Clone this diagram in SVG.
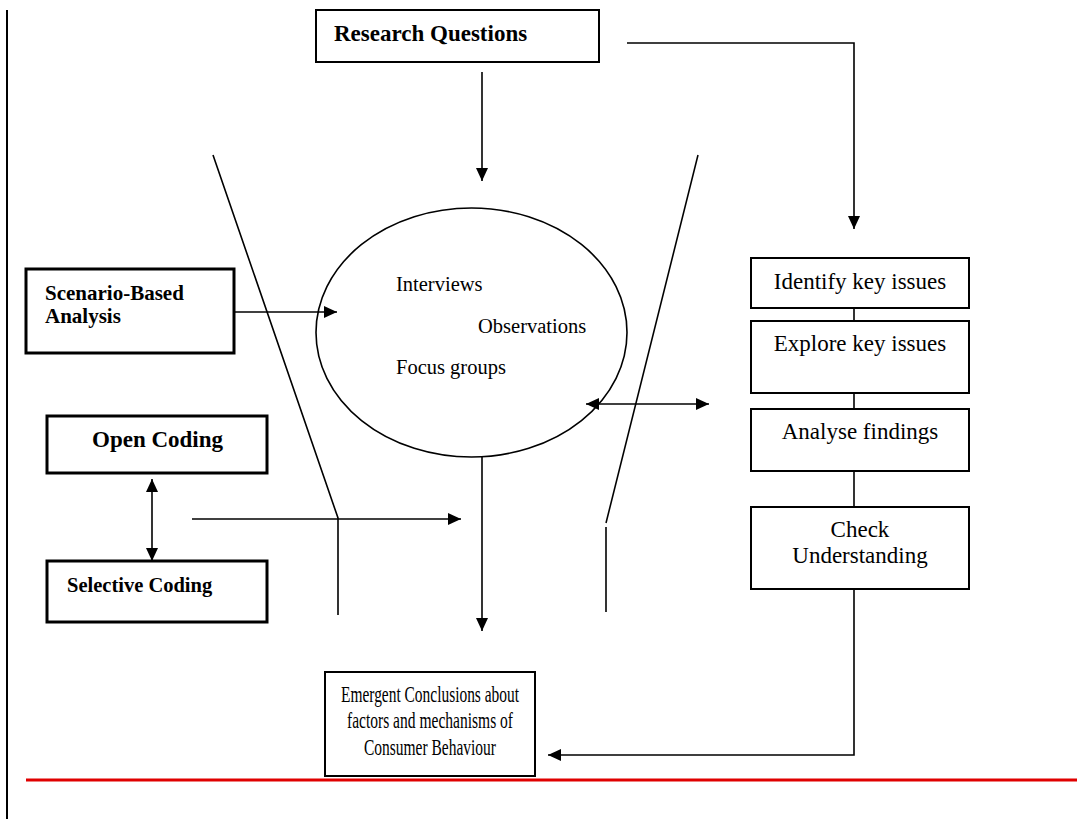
<svg xmlns="http://www.w3.org/2000/svg" width="1077" height="819" viewBox="0 0 1077 819">
  <style>
    .thin { fill: none; stroke: #000; stroke-width: 1.6; }
    .box { fill: #fff; stroke: #000; stroke-width: 2; }
    .bbox { fill: #fff; stroke: #000; stroke-width: 3; }
    .t { font-family: "Liberation Serif", "Times New Roman", serif; fill: #000; }
    .b { font-weight: bold; }
    .rt { font-size: 23px; text-anchor: middle; }
    .et { font-size: 23px; text-anchor: middle; }
    .mt { font-size: 20.5px; }
  </style>
  <defs>
    <marker id="arrow" viewBox="0 0 13 12" refX="13" refY="6" markerWidth="13" markerHeight="12" markerUnits="userSpaceOnUse" orient="auto-start-reverse">
      <path d="M0,0 L13,6 L0,12 z" fill="#000"/>
    </marker>
  </defs>

  <!-- page margin rule and footer rule -->
  <line x1="7" y1="10" x2="7" y2="819" stroke="#000" stroke-width="2"/>
  <line x1="26" y1="780" x2="1077" y2="780" stroke="#e00000" stroke-width="3"/>

  <!-- funnel walls -->
  <g id="funnel" class="thin">
    <path d="M213,155 L338,518 V615"/>
    <path d="M698,155 L606,523"/>
    <path d="M606,527 V612"/>
  </g>

  <!-- connectors -->
  <g id="connectors" class="thin">
    <line x1="482" y1="72" x2="482" y2="181" marker-end="url(#arrow)"/>
    <path d="M627,43 H854 V229" marker-end="url(#arrow)"/>
    <line x1="234" y1="312" x2="337" y2="312" marker-end="url(#arrow)"/>
    <line x1="586" y1="404" x2="709" y2="404" marker-start="url(#arrow)" marker-end="url(#arrow)"/>
    <line x1="152" y1="479" x2="152" y2="561" marker-start="url(#arrow)" marker-end="url(#arrow)"/>
    <line x1="192" y1="519" x2="461" y2="519" marker-end="url(#arrow)"/>
    <line x1="482" y1="457" x2="482" y2="631" marker-end="url(#arrow)"/>
    <path d="M854,589 V755 H548" marker-end="url(#arrow)"/>
    <line x1="854" y1="308" x2="854" y2="321"/>
    <line x1="854" y1="393" x2="854" y2="409"/>
    <line x1="854" y1="471" x2="854" y2="507"/>
  </g>

  <g id="research-questions">
    <rect class="box" x="316" y="10" width="283" height="52"/>
    <text class="t b" x="334" y="41" font-size="23">Research Questions</text>
  </g>

  <g id="methods">
    <ellipse cx="471.5" cy="332.5" rx="155.5" ry="124.5" fill="none" stroke="#000" stroke-width="1.6"/>
    <text class="t mt" x="396" y="291">Interviews</text>
    <text class="t mt" x="478" y="333">Observations</text>
    <text class="t mt" x="396" y="374">Focus groups</text>
  </g>

  <g id="scenario-analysis">
    <rect class="bbox" x="26" y="269" width="208" height="84"/>
    <text class="t b" x="45" y="300" font-size="21">Scenario-Based</text>
    <text class="t b" x="45" y="323" font-size="21">Analysis</text>
  </g>

  <g id="open-coding">
    <rect class="bbox" x="47" y="416" width="220" height="57"/>
    <text class="t b" x="92" y="447" font-size="23">Open Coding</text>
  </g>

  <g id="selective-coding">
    <rect class="bbox" x="47" y="561" width="220" height="61"/>
    <text class="t b" x="67" y="592" font-size="20.5">Selective Coding</text>
  </g>

  <g id="identify">
    <rect class="box" x="751" y="258" width="218" height="50"/>
    <text class="t rt" x="860" y="289">Identify key issues</text>
  </g>

  <g id="explore">
    <rect class="box" x="751" y="321" width="218" height="72"/>
    <text class="t rt" x="860" y="351">Explore key issues</text>
  </g>

  <g id="analyse">
    <rect class="box" x="751" y="409" width="218" height="62"/>
    <text class="t rt" x="860" y="439">Analyse findings</text>
  </g>

  <g id="check">
    <rect class="box" x="751" y="507" width="218" height="82"/>
    <text class="t rt" x="860" y="537">Check</text>
    <text class="t rt" x="860" y="563">Understanding</text>
  </g>

  <g id="conclusions">
    <rect class="box" x="325" y="672" width="210" height="104"/>
    <text class="t et" x="430" y="702" textLength="178" lengthAdjust="spacingAndGlyphs">Emergent Conclusions about</text>
    <text class="t et" x="430" y="728" textLength="166" lengthAdjust="spacingAndGlyphs">factors and mechanisms of</text>
    <text class="t et" x="430" y="755" textLength="132" lengthAdjust="spacingAndGlyphs">Consumer Behaviour</text>
  </g>
</svg>
